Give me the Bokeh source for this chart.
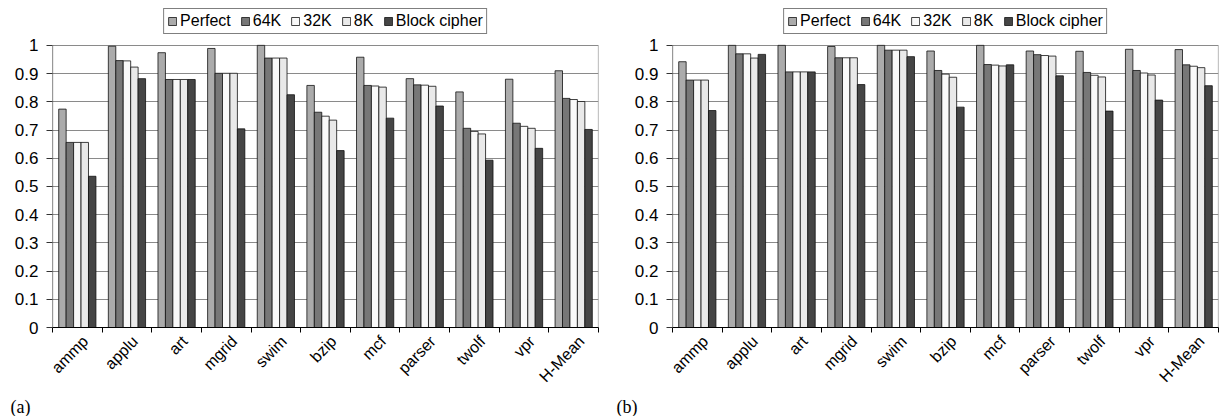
import math
from bokeh.plotting import figure
from bokeh.layouts import row
from bokeh.models import (ColumnDataSource, FixedTicker, CustomJSTickFormatter,
                          Legend, LegendItem, Range1d, Title)
from bokeh.embed import file_html
from bokeh.resources import INLINE

categories = ["ammp", "applu", "art", "mgrid", "swim", "bzip", "mcf",
              "parser", "twolf", "vpr", "H-Mean"]
series_names = ["Perfect", "64K", "32K", "8K", "Block cipher"]
series_colors = ["#ababab", "#777777", "#f9f9f9", "#e9e9e9", "#454545"]

# chart (a)
perfect_a = [0.774, 0.997, 0.974, 0.989, 1.0, 0.858, 0.958, 0.882, 0.835, 0.880, 0.910]
k64_a = [0.656, 0.946, 0.879, 0.901, 0.955, 0.763, 0.858, 0.860, 0.706, 0.724, 0.812]
k32_a = [0.656, 0.945, 0.879, 0.901, 0.955, 0.749, 0.856, 0.859, 0.695, 0.713, 0.808]
k8_a = [0.656, 0.923, 0.879, 0.901, 0.955, 0.735, 0.852, 0.855, 0.686, 0.706, 0.801]
block_a = [0.536, 0.882, 0.879, 0.704, 0.825, 0.627, 0.742, 0.785, 0.593, 0.635, 0.702]

# chart (b)
perfect_b = [0.942, 1.0, 1.0, 0.996, 1.0, 0.980, 1.0, 0.980, 0.979, 0.986, 0.985]
k64_b = [0.877, 0.970, 0.906, 0.956, 0.983, 0.911, 0.932, 0.967, 0.904, 0.911, 0.931]
k32_b = [0.877, 0.970, 0.906, 0.956, 0.983, 0.898, 0.930, 0.964, 0.894, 0.902, 0.926]
k8_b = [0.877, 0.955, 0.906, 0.956, 0.983, 0.887, 0.927, 0.962, 0.888, 0.895, 0.921]
block_b = [0.769, 0.968, 0.906, 0.861, 0.960, 0.781, 0.931, 0.892, 0.767, 0.806, 0.857]

y_ticks = [i / 10 for i in range(11)]
Y_TOP = 1.159  # headroom above the value axis for the legend


def make_chart(series, tag, left_border, right_border, tag_left):
    n = len(categories)
    p = figure(width=610, height=416, output_backend="svg", toolbar_location=None,
               x_range=Range1d(0, n), y_range=Range1d(0, Y_TOP),
               min_border_left=left_border, min_border_right=right_border,
               min_border_top=0, min_border_bottom=88)
    p.outline_line_color = None
    x_pos = [i + 0.5 for i in range(n)]
    bw = 0.15
    offsets = [-0.3, -0.15, 0.0, 0.15, 0.3]

    # plot-area box (0..1)
    p.segment(x0=[n], y0=[0], x1=[n], y1=[1], line_color="#8a8a8a", line_width=1.2)
    p.segment(x0=[0], y0=[0], x1=[0], y1=[1], line_color="#333333", line_width=1.2)

    items = []
    for name, vals, col, off in zip(series_names, series, series_colors, offsets):
        src = ColumnDataSource(dict(x=[x + off for x in x_pos], top=vals))
        r = p.vbar(x="x", top="top", width=bw, source=src, fill_color=col,
                   line_color="#111111", line_width=0.8)
        items.append(LegendItem(label=name, renderers=[r]))
    legend = Legend(items=items, orientation="horizontal", location="top_center",
                    border_line_color="#000000", border_line_width=1,
                    label_text_font="Liberation Sans", label_text_font_size="16px",
                    label_text_color="#000000",
                    glyph_width=10, glyph_height=10, label_standoff=3,
                    spacing=9, padding=3, margin=8, label_height=16,
                    background_fill_alpha=1)
    p.add_layout(legend)

    p.xgrid.visible = False
    p.ygrid.grid_line_color = "#8a8a8a"
    p.ygrid.grid_line_width = 1.2
    p.yaxis.ticker = FixedTicker(ticks=y_ticks)
    p.yaxis.formatter = CustomJSTickFormatter(
        code="return tick.toFixed(1).replace(/\\.0$/, '');")
    p.yaxis.major_label_text_font = "Liberation Sans"
    p.yaxis.major_label_text_font_size = "17px"
    p.yaxis.major_label_text_color = "#000000"
    p.yaxis.major_tick_in = 0
    p.yaxis.major_tick_out = 6
    p.yaxis.major_tick_line_color = "#333333"
    p.yaxis.major_label_standoff = 8
    p.yaxis.minor_tick_line_color = None
    p.yaxis.axis_line_color = None

    label_pos = [x + 0.16 for x in x_pos]
    p.xaxis.ticker = FixedTicker(ticks=label_pos, minor_ticks=list(range(n + 1)))
    p.xaxis.major_label_overrides = {x: c for x, c in zip(label_pos, categories)}
    p.xaxis.major_label_orientation = 0.8
    p.xaxis.major_label_text_font = "Liberation Sans"
    p.xaxis.major_label_text_font_size = "16px"
    p.xaxis.major_label_text_color = "#000000"
    p.xaxis.major_tick_line_color = None
    p.xaxis.major_tick_out = 0
    p.xaxis.major_tick_in = 0
    p.xaxis.minor_tick_out = 5
    p.xaxis.minor_tick_in = 0
    p.xaxis.minor_tick_line_color = "#000000"
    p.xaxis.axis_line_color = "#000000"
    p.xaxis.major_label_standoff = 6

    t = Title(text=tag, align="left", offset=tag_left - left_border, standoff=0,
              text_font="Liberation Serif", text_font_size="18px",
              text_font_style="normal", text_color="#000000")
    p.add_layout(t, "below")
    return p


pa = make_chart([perfect_a, k64_a, k32_a, k8_a, block_a], "(a)", 52, 12, 10)
pb = make_chart([perfect_b, k64_b, k32_b, k8_b, block_b], "(b)", 62, 2, 6)
layout = row(pa, pb, spacing=0)

open("out.html", "w").write(file_html(layout, INLINE))
